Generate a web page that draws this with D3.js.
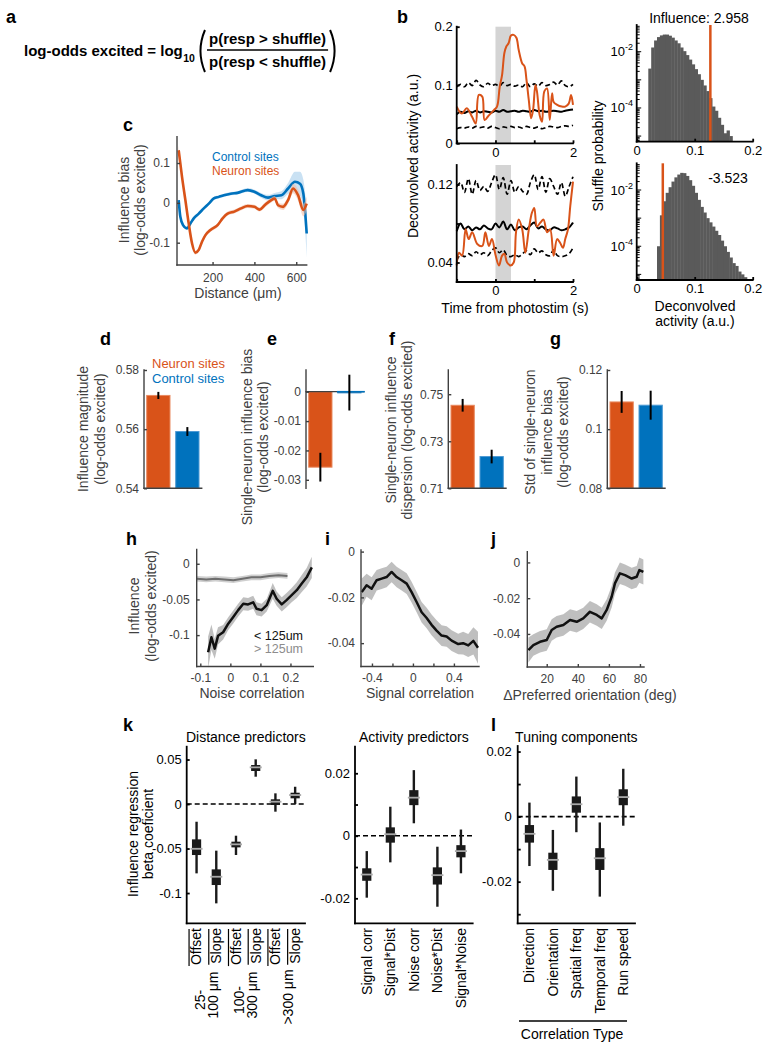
<!DOCTYPE html>
<html><head><meta charset="utf-8">
<script src="https://cdn.jsdelivr.net/npm/d3@7"></script>
<style>body{margin:0;background:#fff}svg{display:block}</style>
</head><body>
<svg id="fig" width="772" height="1050"></svg>
<script>
// ================= DATA =================
// a
const formulaLHS = 'log-odds excited = log';
const formulaBase = '10';
const formulaNum = 'p(resp > shuffle)';
const formulaDen = 'p(resp < shuffle)';
// b: traces
const bGridT = [-1.0,-0.9,-0.8,-0.7,-0.6,-0.5,-0.4,-0.3,-0.2,-0.1,0.0,0.1,0.2,0.3,0.4,0.5,0.6,0.7,0.8,0.9,1.0,1.1,1.2,1.3,1.4,1.5,1.6,1.7,1.8,1.9,2.0];
const bTopUpper = [0.097,0.101,0.097,0.104,0.099,0.108,0.100,0.097,0.103,0.099,0.101,0.098,0.104,0.099,0.101,0.098,0.100,0.097,0.104,0.097,0.102,0.098,0.104,0.099,0.101,0.105,0.100,0.107,0.099,0.097,0.101];
const bTopMean  = [0.050,0.054,0.052,0.055,0.053,0.056,0.053,0.055,0.054,0.053,0.056,0.054,0.057,0.054,0.055,0.056,0.054,0.056,0.055,0.054,0.057,0.055,0.056,0.054,0.055,0.056,0.055,0.054,0.056,0.057,0.058];
const bTopLower = [0.025,0.027,0.026,0.028,0.026,0.029,0.027,0.028,0.026,0.029,0.027,0.025,0.028,0.027,0.029,0.027,0.028,0.026,0.029,0.027,0.026,0.028,0.025,0.027,0.029,0.028,0.027,0.029,0.030,0.029,0.031];
const bTopRedT = [-1.0,-0.87,-0.74,-0.60,-0.51,-0.43,-0.34,-0.28,-0.17,-0.04,0.04,0.11,0.17,0.23,0.28,0.34,0.40,0.47,0.54,0.60,0.69,0.75,0.80,0.86,0.92,0.97,1.03,1.07,1.14,1.20,1.26,1.33,1.40,1.46,1.50,1.59,1.71,1.80,1.89,1.95,2.0];
const bTopRedV = [0.063,0.051,0.060,0.045,0.034,0.083,0.080,0.040,0.048,0.057,0.063,0.097,0.117,0.155,0.166,0.172,0.185,0.186,0.181,0.160,0.137,0.132,0.109,0.074,0.043,0.057,0.100,0.089,0.048,0.037,0.089,0.094,0.040,0.086,0.071,0.066,0.063,0.063,0.068,0.083,0.066];
const bBotUpper = [0.118,0.122,0.112,0.126,0.110,0.124,0.114,0.118,0.113,0.122,0.130,0.115,0.127,0.110,0.124,0.112,0.118,0.113,0.110,0.122,0.130,0.115,0.128,0.112,0.126,0.118,0.110,0.122,0.108,0.118,0.128];
const bBotMean  = [0.072,0.080,0.074,0.077,0.073,0.076,0.074,0.078,0.075,0.074,0.080,0.076,0.082,0.074,0.079,0.073,0.076,0.077,0.074,0.078,0.081,0.075,0.077,0.074,0.073,0.076,0.075,0.073,0.074,0.076,0.081];
const bBotLower = [0.042,0.048,0.046,0.049,0.047,0.051,0.048,0.050,0.047,0.052,0.055,0.050,0.053,0.047,0.046,0.048,0.046,0.049,0.052,0.048,0.054,0.050,0.052,0.048,0.047,0.053,0.047,0.046,0.047,0.049,0.055];
const bBotRedT = [-1.0,-0.94,-0.86,-0.77,-0.69,-0.60,-0.47,-0.34,-0.26,-0.17,-0.09,0,0.09,0.17,0.23,0.30,0.39,0.47,0.53,0.60,0.69,0.77,0.86,0.94,1.00,1.07,1.16,1.24,1.33,1.41,1.50,1.59,1.67,1.74,1.80,1.87,1.93,2.0];
const bBotRedV = [0.037,0.050,0.047,0.074,0.064,0.071,0.059,0.057,0.071,0.057,0.064,0.048,0.037,0.047,0.049,0.040,0.037,0.040,0.071,0.084,0.074,0.050,0.074,0.091,0.096,0.077,0.081,0.084,0.071,0.074,0.047,0.064,0.060,0.055,0.064,0.074,0.098,0.123];
const bStimWindow = [0, 0.4];
// b: shuffle histograms (log10 probability per bin)
const histTopEdges = [0.020,0.025,0.030,0.035,0.040,0.045,0.050,0.055,0.060,0.065,0.070,0.075,0.080,0.085,0.090,0.095,0.100,0.105,0.110,0.115,0.120,0.125,0.130,0.135,0.140,0.145,0.150,0.155,0.160,0.165];
const histTopLog10 = [-2.6,-1.85,-1.6,-1.48,-1.42,-1.39,-1.39,-1.43,-1.5,-1.6,-1.7,-1.85,-1.98,-2.12,-2.28,-2.45,-2.62,-2.8,-3.0,-3.2,-3.4,-3.65,-3.95,-4.1,-4.35,-4.6,-4.9,-4.8,-5.0];
const histTopResp = 0.127;
const histTopLabel = 'Influence: 2.958';
const histBotEdges = [0.035,0.040,0.045,0.050,0.055,0.060,0.065,0.070,0.075,0.080,0.085,0.090,0.095,0.100,0.105,0.110,0.115,0.120,0.125,0.130,0.135,0.140,0.145,0.150,0.155,0.160,0.165,0.170,0.175,0.180,0.185,0.190];
const histBotLog10 = [-4.0,-2.9,-2.4,-2.1,-1.9,-1.7,-1.55,-1.45,-1.39,-1.4,-1.5,-1.65,-1.85,-2.1,-2.35,-2.6,-2.8,-3.0,-3.15,-3.3,-3.45,-3.6,-3.8,-4.0,-4.2,-4.4,-4.6,-4.7,-4.9,-5.0,-5.1];
const histBotResp = 0.045;
const histBotLabel = '-3.523';
// c
const cNeuronDist = [38,54,70,86,102,118,134,150,166,190,224,248,272,304,336,368,400,425,449,481,497,513,537,561,585,609,634,650];
const cNeuronBias = [0.132,0.065,0.007,-0.052,-0.102,-0.125,-0.118,-0.097,-0.081,-0.068,-0.056,-0.039,-0.027,-0.022,-0.014,-0.008,-0.010,-0.017,-0.006,0.007,0.011,-0.006,-0.010,0.007,0.036,0.019,-0.018,-0.002];
const cNeuronErr  = [0.012,0.008,0.006,0.005,0.005,0.005,0.005,0.005,0.005,0.005,0.005,0.005,0.005,0.005,0.005,0.005,0.005,0.005,0.006,0.006,0.006,0.007,0.008,0.009,0.012,0.014,0.016,0.018];
const cControlDist = [38,46,59,78,94,110,134,158,182,206,230,254,287,319,368,400,432,465,497,529,561,594,618,634,650];
const cControlBias = [0.007,-0.035,-0.056,-0.064,-0.052,-0.039,-0.027,-0.014,-0.002,0.011,0.015,0.019,0.023,0.025,0.032,0.028,0.019,0.013,0.017,0.019,0.036,0.053,0.048,0.023,-0.077];
const cControlErr  = [0.006,0.005,0.004,0.004,0.004,0.004,0.004,0.004,0.004,0.004,0.004,0.004,0.004,0.004,0.005,0.005,0.006,0.007,0.008,0.010,0.014,0.025,0.030,0.035,0.060];
// d-g
const groupNames = ['Neuron sites','Control sites'];
const dValues = [0.5714, 0.5592], dErr = [0.0012, 0.0015];
const eValues = [-0.0257, -0.0003], eErr = [0.0049, 0.0061];
const fValues = [0.7453, 0.7235], fErr = [0.0027, 0.0029];
const gValues = [0.1092, 0.1081], gErr = [0.0037, 0.0049];
// h
const hNearX = [-0.074,-0.063,-0.052,-0.041,-0.024,-0.007,0.009,0.026,0.043,0.059,0.076,0.087,0.104,0.121,0.132,0.141,0.154,0.171,0.187,0.204,0.221,0.237,0.254,0.271];
const hNearY = [-0.124,-0.103,-0.119,-0.101,-0.096,-0.084,-0.075,-0.065,-0.056,-0.057,-0.054,-0.063,-0.065,-0.058,-0.047,-0.038,-0.049,-0.057,-0.051,-0.044,-0.037,-0.028,-0.019,-0.005];
const hNearErr = [0.022,0.018,0.014,0.012,0.010,0.009,0.009,0.009,0.009,0.009,0.009,0.009,0.009,0.009,0.010,0.011,0.010,0.010,0.010,0.010,0.011,0.012,0.013,0.015];
const hFarX = [-0.112,-0.08,-0.05,-0.02,0.01,0.04,0.07,0.10,0.13,0.16,0.19];
const hFarY = [-0.021,-0.022,-0.021,-0.022,-0.023,-0.021,-0.019,-0.019,-0.017,-0.016,-0.017];
const hFarErr = [0.004,0.004,0.004,0.004,0.004,0.004,0.004,0.004,0.004,0.004,0.004];
// i
const iX = [-0.50,-0.452,-0.403,-0.354,-0.305,-0.257,-0.208,-0.159,-0.110,-0.061,-0.013,0.036,0.085,0.134,0.182,0.231,0.28,0.329,0.378,0.442,0.49,0.54,0.59,0.635];
const iY = [-0.0177,-0.0147,-0.0162,-0.0125,-0.0118,-0.0111,-0.0089,-0.0111,-0.0125,-0.014,-0.0177,-0.022,-0.0265,-0.029,-0.032,-0.0345,-0.0367,-0.0371,-0.0389,-0.0404,-0.040,-0.041,-0.039,-0.042];
const iErr = [0.006,0.005,0.005,0.0045,0.0045,0.0045,0.0045,0.0045,0.0045,0.0045,0.0045,0.0045,0.0045,0.0045,0.0045,0.0045,0.0045,0.0045,0.0045,0.0045,0.005,0.005,0.006,0.007];
// j
const jX = [8.2,11.4,15.7,20,23.2,26.4,30.7,35,39.3,43.5,47.8,52.2,55.4,58.6,61.8,63.9,67.1,70.4,74.7,77.9,79.6,82.2];
const jY = [-0.049,-0.0462,-0.0444,-0.0434,-0.0378,-0.036,-0.035,-0.0322,-0.0332,-0.0313,-0.0276,-0.0294,-0.0313,-0.0266,-0.0192,-0.0117,-0.0061,-0.0071,-0.009,-0.008,-0.0043,-0.0053];
const jErr = [0.007,0.006,0.006,0.006,0.006,0.006,0.006,0.006,0.006,0.006,0.006,0.006,0.006,0.006,0.006,0.006,0.006,0.006,0.006,0.006,0.007,0.007];
// k (distance predictors)
const kDistLabels = ['Offset','Slope','Offset','Slope','Offset','Slope'];
const kDistGroups = [['25-','100 μm'],['100-','300 μm'],['>300 μm']];
const kDistMed = [-0.0503,-0.0817,-0.0453,0.0412,0.0026,0.0101];
const kDistQ3  = [-0.0397,-0.0734,-0.0423,0.0438,0.0053,0.0127];
const kDistQ1  = [-0.0573,-0.0910,-0.0487,0.0371,-0.0011,0.0064];
const kDistHi  = [-0.0199,-0.0524,-0.0356,0.0502,0.0120,0.0194];
const kDistLo  = [-0.0779,-0.1116,-0.0573,0.0307,-0.0086,0.0000];
// k (activity predictors)
const kActLabels = ['Signal corr','Signal*Dist','Noise corr','Noise*Dist','Signal*Noise'];
const kActMed = [-0.0124,0.0005,0.0122,-0.0126,-0.0049];
const kActQ3  = [-0.0104,0.0027,0.0146,-0.0101,-0.0030];
const kActQ1  = [-0.0144,-0.0022,0.0098,-0.0156,-0.0069];
const kActHi  = [-0.0049,0.0093,0.0210,-0.0035,0.0020];
const kActLo  = [-0.0198,-0.0085,0.0040,-0.0227,-0.0120];
// l
const lLabels = ['Direction','Orientation','Spatial freq','Temporal freq','Run speed'];
const lMed = [-0.0053,-0.0133,0.0038,-0.0128,0.0060];
const lQ3  = [-0.0026,-0.0111,0.0062,-0.0097,0.0084];
const lQ1  = [-0.0080,-0.0164,0.0012,-0.0164,0.0035];
const lHi  = [0.0043,-0.0041,0.0123,-0.0018,0.0147];
const lLo  = [-0.0152,-0.0228,-0.0048,-0.0246,-0.0028];

// ================= DRAWING =================
const FONT = "'Liberation Sans', Arial, Helvetica, sans-serif";
const ORANGE = '#D95319', BLUE = '#0072BD', GREY = '#404040';
const svg = d3.select('#fig').attr('font-family', FONT);
svg.append('rect').attr('width', 772).attr('height', 1050).attr('fill', '#fff');

function txt(g, x, y, s, o = {}) {
  return g.append('text').attr('x', x).attr('y', y)
    .attr('font-size', o.size || 14).attr('fill', o.fill || '#000')
    .attr('font-weight', o.weight || 'normal')
    .attr('text-anchor', o.anchor || 'start').text(s);
}
function rtxt(g, x, y, s, o = {}) {
  return g.append('text').attr('transform', `translate(${x},${y}) rotate(-90)`)
    .attr('dy', '0.35em').attr('font-size', o.size || 14).attr('fill', o.fill || '#000')
    .attr('text-anchor', o.anchor || 'middle').text(s);
}
function seg(g, x1, y1, x2, y2, color, w, dash) {
  const l = g.append('line').attr('x1', x1).attr('y1', y1).attr('x2', x2).attr('y2', y2)
    .attr('stroke', color).attr('stroke-width', w).attr('stroke-linecap', 'square');
  if (dash) l.attr('stroke-dasharray', dash).attr('stroke-linecap', 'butt');
  return l;
}
function yAxis(g, scale, x, vals, labels, o = {}) {
  const lab = new Map(vals.map((v, i) => [v, labels[i]]));
  const a = d3.axisLeft(scale).tickValues(vals).tickFormat(v => lab.get(v) ?? '')
    .tickSizeInner(-(o.tick ?? 4)).tickSizeOuter(0).tickPadding(o.pad ?? 5);
  const ax = g.append('g').attr('transform', `translate(${x},0)`).call(a)
    .attr('font-family', FONT).attr('font-size', o.size || 12).attr('color', o.color || '#000');
  ax.select('.domain').remove();
  ax.selectAll('.tick line').attr('stroke-width', o.sw || 1.5);
  const r = scale.range();
  seg(g, x, Math.min(...r), x, Math.max(...r), o.color || '#000', o.sw || 1.5);
  return ax;
}
function xAxis(g, scale, y, vals, labels, o = {}) {
  const lab = new Map(vals.map((v, i) => [v, labels[i]]));
  const a = d3.axisBottom(scale).tickValues(vals).tickFormat(v => lab.get(v) ?? '')
    .tickSizeInner(-(o.tick ?? 4)).tickSizeOuter(0).tickPadding(o.pad ?? 5);
  const ax = g.append('g').attr('transform', `translate(0,${y})`).call(a)
    .attr('font-family', FONT).attr('font-size', o.size || 12).attr('color', o.color || '#000');
  ax.select('.domain').remove();
  ax.selectAll('.tick line').attr('stroke-width', o.sw || 1.5);
  const r = scale.range();
  seg(g, Math.min(...r), y, Math.max(...r), y, o.color || '#000', o.sw || 1.5);
  return ax;
}
function panelLabel(x, y, s) { txt(svg, x, y, s, {size: 18, weight: 'bold'}); }

// ---------- a ----------
(function () {
  const g = svg.append('g');
  panelLabel(6, 23, 'a');
  const f1 = txt(g, 24, 56, formulaLHS, {size: 15, weight: 'bold'});
  let xx = 24 + f1.node().getComputedTextLength() + 0.5;
  const f2 = txt(g, xx, 62, formulaBase, {size: 10.5, weight: 'bold'});
  xx += f2.node().getComputedTextLength() + 3;
  const n = txt(g, 0, 44, formulaNum, {size: 15, weight: 'bold', anchor: 'middle'});
  const d = txt(g, 0, 67, formulaDen, {size: 15, weight: 'bold', anchor: 'middle'});
  const fw = Math.max(n.node().getComputedTextLength(), d.node().getComputedTextLength()) + 4;
  const fx0 = xx + 9, cxm = fx0 + fw / 2;
  n.attr('x', cxm); d.attr('x', cxm);
  seg(g, fx0, 50, fx0 + fw, 50, '#000', 1.6).attr('stroke-linecap', 'butt');
  g.append('path').attr('d', `M${xx + 7},30 Q${xx - 2},51 ${xx + 7},72`).attr('fill', 'none').attr('stroke', '#000').attr('stroke-width', 2);
  const rp = fx0 + fw + 2;
  g.append('path').attr('d', `M${rp},30 Q${rp + 9},51 ${rp},72`).attr('fill', 'none').attr('stroke', '#000').attr('stroke-width', 2);
})();

// ---------- b ----------
(function () {
  const g = svg.append('g');
  panelLabel(397, 23, 'b');
  const bx = d3.scaleLinear().domain([-1, 2]).range([456.7, 573]);
  const curve = d3.curveCatmullRom.alpha(0.5);
  function trace(yS, upper, mean, lower, redT, redV, yt, ytl) {
    const [yb, ytop] = yS.range();
    g.append('rect').attr('x', bx(bStimWindow[0])).attr('width', bx(bStimWindow[1]) - bx(bStimWindow[0]))
      .attr('y', ytop).attr('height', yb - ytop).attr('fill', '#d4d4d4');
    const ln = d3.line().x((d, i) => bx(bGridT[i])).y(d => yS(d)).curve(curve);
    g.append('path').attr('d', ln(upper)).attr('fill', 'none').attr('stroke', '#000').attr('stroke-width', 1.7).attr('stroke-dasharray', '5,3');
    g.append('path').attr('d', ln(lower)).attr('fill', 'none').attr('stroke', '#000').attr('stroke-width', 1.7).attr('stroke-dasharray', '5,3');
    g.append('path').attr('d', ln(mean)).attr('fill', 'none').attr('stroke', '#000').attr('stroke-width', 2);
    const lr = d3.line().x((d, i) => bx(redT[i])).y(d => yS(d)).curve(curve);
    g.append('path').attr('d', lr(redV)).attr('fill', 'none').attr('stroke', ORANGE).attr('stroke-width', 2);
    yAxis(g, yS, 456.7, yt, ytl, {size: 13, pad: 4, sw: 1.8, tick: 3});
    xAxis(g, bx, yb, [-1, 0, 1, 2], ['', '0', '', '2'], {size: 13, pad: 4, sw: 1.8, tick: 3});
  }
  const byT = d3.scaleLinear().domain([0, 0.2]).range([143.3, 26.7]);
  const byB = d3.scaleLinear().domain([0.02, 0.14]).range([282, 165]);
  trace(byT, bTopUpper, bTopMean, bTopLower, bTopRedT, bTopRedV, [0, 0.1, 0.2], ['0', '0.1', '0.2']);
  trace(byB, bBotUpper, bBotMean, bBotLower, bBotRedT, bBotRedV, [0.04, 0.08, 0.12], ['0.04', '', '0.12']);
  rtxt(g, 413, 156, 'Deconvolved activity (a.u.)', {size: 14});
  txt(g, 515, 313, 'Time from photostim (s)', {size: 14, anchor: 'middle'});

  const hx = d3.scaleLinear().domain([0, 0.2]).range([636.7, 752.7]);
  function hist(yS, edges, logs, resp) {
    const [yb, ytop] = yS.range();
    g.selectAll(null).data(logs).enter().append('rect')
      .attr('x', (d, i) => hx(edges[i]))
      .attr('width', (d, i) => hx(edges[i + 1]) - hx(edges[i]) + 0.4)
      .attr('y', d => yS(Math.pow(10, d)))
      .attr('height', d => yb - yS(Math.pow(10, d)))
      .attr('fill', '#5a5a5a');
    seg(g, hx(resp), yb, hx(resp), ytop, ORANGE, 2.5).attr('stroke-linecap', 'butt');
    const [lo, hi] = yS.domain();
    for (let e = -6; e <= -1; e++) {
      for (let k = 1; k <= 9; k++) {
        const v = k * Math.pow(10, e);
        if (v < lo || v > hi) continue;
        const yy = yS(v);
        seg(g, 636.7, yy, 636.7 + (k === 1 ? 4 : 2.5), yy, '#000', 1);
      }
    }
    [-2, -4].forEach(e => {
      const t = g.append('text').attr('x', 633).attr('y', yS(Math.pow(10, e)) + 4.5)
        .attr('text-anchor', 'end').attr('font-size', 13);
      t.append('tspan').text('10');
      t.append('tspan').attr('font-size', 9).attr('dy', -6).text(String(e));
    });
    seg(g, 636.7, ytop, 636.7, yb, '#000', 1.8);
    xAxis(g, hx, yb, [0, 0.1, 0.2], ['0', '0.1', '0.2'], {size: 13, pad: 4, sw: 1.8, tick: 3});
  }
  const hyT = d3.scaleLog().domain([Math.pow(10, -5.2), Math.pow(10, -1.05)]).range([141.7, 25]);
  const hyB = d3.scaleLog().domain([Math.pow(10, -5.2), Math.pow(10, -1.05)]).range([280, 163.3]);
  hist(hyT, histTopEdges, histTopLog10, histTopResp);
  hist(hyB, histBotEdges, histBotLog10, histBotResp);
  txt(g, 699, 23, histTopLabel, {size: 14, anchor: 'middle'});
  txt(g, 728, 183, histBotLabel, {size: 14, anchor: 'middle'});
  rtxt(g, 598, 156, 'Shuffle probability', {size: 14});
  txt(g, 695, 311, 'Deconvolved', {size: 14, anchor: 'middle'});
  txt(g, 695, 326, 'activity (a.u.)', {size: 14, anchor: 'middle'});
})();

// ---------- c ----------
(function () {
  const g = svg.append('g');
  panelLabel(123, 131, 'c');
  const x = d3.scaleLinear().domain([30, 650]).range([177, 306.7]);
  const y = d3.scaleLinear().domain([-0.156, 0.166]).range([265, 136.7]);
  function series(dist, bias, err, col, band) {
    const ar = d3.area().x((d, i) => x(dist[i])).y0((d, i) => y(bias[i] - err[i])).y1((d, i) => y(bias[i] + err[i])).curve(d3.curveMonotoneX);
    g.append('path').attr('d', ar(bias)).attr('fill', band).attr('opacity', 0.55);
    const ln = d3.line().x((d, i) => x(dist[i])).y(d => y(d)).curve(d3.curveMonotoneX);
    g.append('path').attr('d', ln(bias)).attr('fill', 'none').attr('stroke', col).attr('stroke-width', 2.6);
  }
  series(cControlDist, cControlBias, cControlErr, BLUE, '#9cc8ea');
  series(cNeuronDist, cNeuronBias, cNeuronErr, ORANGE, '#f0b9a0');
  yAxis(g, y, 177, [-0.1, 0, 0.1], ['-0.1', '0', '0.1'], {color: GREY, pad: 7, tick: 3, sw: 1.4, size: 12});
  xAxis(g, x, 265, [200, 400, 600], ['200', '400', '600'], {color: GREY, pad: 8, tick: 3, sw: 1.4, size: 12});
  txt(g, 212, 161, 'Control sites', {size: 12, fill: BLUE});
  txt(g, 212, 175, 'Neuron sites', {size: 12, fill: ORANGE});
  rtxt(g, 124, 200, 'Influence bias', {size: 14, fill: GREY});
  rtxt(g, 140, 200, '(log-odds excited)', {size: 14, fill: GREY});
  txt(g, 238, 298, 'Distance (μm)', {size: 14, anchor: 'middle', fill: GREY});
})();

// ---------- d-g ----------
function barPanel(o) {
  const g = svg.append('g');
  panelLabel(o.labelX, 345, o.letter);
  const x = d3.scaleBand().domain([0, 1]).range([o.x0, o.x0 + 57.7]).paddingInner(0.197).paddingOuter(0.093);
  const y = d3.scaleLinear().domain(o.domain).range([488.3, 370]);
  const base = o.base;
  const cols = [ORANGE, BLUE], edge = ['#e98a60', '#4d9ad4'];
  o.values.forEach((v, i) => {
    const y0 = y(base), y1 = y(v);
    g.append('rect').attr('x', x(i)).attr('width', x.bandwidth())
      .attr('y', Math.min(y0, y1)).attr('height', Math.max(Math.abs(y0 - y1), 1.2))
      .attr('fill', cols[i]).attr('stroke', edge[i]).attr('stroke-width', 1);
  });
  if (o.zeroLine) seg(g, o.x0, y(0), o.x0 + 57.7, y(0), GREY, 1.3);
  if (o.zeroLine) seg(g, x(1), y(0), x(1) + x.bandwidth() + 3, y(0), BLUE, 1.6);
  o.values.forEach((v, i) => {
    const cx = x(i) + x.bandwidth() / 2;
    seg(g, cx, y(v - o.err[i]), cx, y(v + o.err[i]), '#000', 2).attr('stroke-linecap', 'butt');
  });
  yAxis(g, y, o.x0, o.ticks, o.tickLabels, {color: GREY, pad: 5, tick: 3, sw: 1.4, size: 12});
  if (o.bottomAxis) seg(g, o.x0, 488.3, o.x0 + 57.7, 488.3, GREY, 1.4);
  o.ylabel.forEach((s, i) => rtxt(g, o.ylabX[i], o.ylabY, s, {size: 14, fill: GREY}));
  return g;
}
barPanel({letter: 'd', labelX: 100, x0: 144, domain: [0.54, 0.58], base: 0.54, values: dValues, err: dErr,
  ticks: [0.54, 0.56, 0.58], tickLabels: ['0.54', '0.56', '0.58'], bottomAxis: true,
  ylabel: ['Influence magnitude', '(log-odds excited)'], ylabX: [83, 100], ylabY: 429});
txt(svg, 152, 368, groupNames[0], {size: 13, fill: ORANGE});
txt(svg, 152, 383, groupNames[1], {size: 13, fill: BLUE});
barPanel({letter: 'e', labelX: 267, x0: 306, domain: [-0.0329, 0.0074], base: 0, values: eValues, err: eErr,
  ticks: [-0.03, -0.02, -0.01, 0], tickLabels: ['-0.03', '-0.02', '-0.01', '0'], bottomAxis: false, zeroLine: true,
  ylabel: ['Single-neuron influence bias', '(log-odds excited)'], ylabX: [247, 263], ylabY: 437});
barPanel({letter: 'f', labelX: 389, x0: 448.3, domain: [0.71, 0.7603], base: 0.71, values: fValues, err: fErr,
  ticks: [0.71, 0.73, 0.75], tickLabels: ['0.71', '0.73', '0.75'], bottomAxis: true,
  ylabel: ['Single-neuron influence', 'dispersion (log-odds excited)'], ylabX: [391, 407], ylabY: 430});
barPanel({letter: 'g', labelX: 550, x0: 607.3, domain: [0.08, 0.12], base: 0.08, values: gValues, err: gErr,
  ticks: [0.08, 0.1, 0.12], tickLabels: ['0.08', '0.1', '0.12'], bottomAxis: true,
  ylabel: ['Std of single-neuron', 'influence bias', '(log-odds excited)'], ylabX: [530, 547, 563], ylabY: 432});

// ---------- h, i, j ----------
function bandLine(g, x, y, xs, ys, es, lineCol, bandCol, w) {
  const ar = d3.area().x((d, i) => x(xs[i])).y0((d, i) => y(ys[i] - es[i])).y1((d, i) => y(ys[i] + es[i])).curve(d3.curveLinear);
  g.append('path').attr('d', ar(ys)).attr('fill', bandCol);
  const ln = d3.line().x((d, i) => x(xs[i])).y(d => y(d)).curve(d3.curveLinear);
  g.append('path').attr('d', ln(ys)).attr('fill', 'none').attr('stroke', lineCol).attr('stroke-width', w).attr('stroke-linejoin', 'round');
}
(function () {
  const g = svg.append('g');
  panelLabel(126, 545, 'h');
  const x = d3.scaleLinear().domain([-0.112, 0.276]).range([196.7, 313.3]);
  const y = d3.scaleLinear().domain([-0.144, 0.02]).range([666.5, 549.5]);
  bandLine(g, x, y, hFarX, hFarY, hFarErr, '#6e6e6e', '#cfcfcf', 2);
  bandLine(g, x, y, hNearX, hNearY, hNearErr, '#111', 'rgba(170,170,170,0.75)', 2.5);
  yAxis(g, y, 196.7, [-0.1, -0.05, 0], ['-0.1', '-0.05', '0'], {color: GREY, pad: 7, tick: 3, sw: 1.4, size: 12});
  xAxis(g, x, 666.5, [-0.1, 0, 0.1, 0.2], ['-0.1', '0', '0.1', '0.2'], {color: GREY, pad: 7, tick: 3, sw: 1.4, size: 12});
  txt(g, 303, 640, '< 125um', {size: 12.5, anchor: 'end', fill: '#111'});
  txt(g, 303, 653, '> 125um', {size: 12.5, anchor: 'end', fill: '#8c8c8c'});
  rtxt(g, 134, 606, 'Influence', {size: 14, fill: GREY});
  rtxt(g, 151, 606, '(log-odds excited)', {size: 14, fill: GREY});
  txt(g, 252, 698, 'Noise correlation', {size: 14, anchor: 'middle', fill: GREY});
})();
(function () {
  const g = svg.append('g');
  panelLabel(325, 545, 'i');
  const x = d3.scaleLinear().domain([-0.507, 0.645]).range([361, 479]);
  const y = d3.scaleLinear().domain([-0.0502, 0.0007]).range([666.5, 550]);
  bandLine(g, x, y, iX, iY, iErr, '#111', 'rgba(170,170,170,0.75)', 2.5);
  yAxis(g, y, 361, [-0.04, -0.02, 0], ['-0.04', '-0.02', '0'], {color: GREY, pad: 6, tick: 3, sw: 1.4, size: 12});
  xAxis(g, x, 666.5, [-0.4, -0.2, 0, 0.2, 0.4], ['-0.4', '', '0', '', '0.4'], {color: GREY, pad: 7, tick: 3, sw: 1.4, size: 12});
  txt(g, 420, 698, 'Signal correlation', {size: 14, anchor: 'middle', fill: GREY});
})();
(function () {
  const g = svg.append('g');
  panelLabel(491, 545, 'j');
  const x = d3.scaleLinear().domain([7.5, 82.6]).range([527.3, 644]);
  const y = d3.scaleLinear().domain([-0.0585, 0.006]).range([667, 551.7]);
  bandLine(g, x, y, jX, jY, jErr, '#111', 'rgba(170,170,170,0.75)', 2.5);
  yAxis(g, y, 527.3, [-0.04, -0.02, 0], ['-0.04', '-0.02', '0'], {color: GREY, pad: 7, tick: 3, sw: 1.4, size: 12});
  xAxis(g, x, 667, [20, 40, 60, 80], ['20', '40', '60', '80'], {color: GREY, pad: 7, tick: 3, sw: 1.4, size: 12});
  txt(g, 590, 700, 'ΔPreferred orientation (deg)', {size: 14, anchor: 'middle', fill: GREY});
})();

// ---------- k, l ----------
function boxPanel(o) {
  const g = svg.append('g');
  const x = d3.scalePoint().domain(d3.range(o.med.length)).range(o.xr).padding(0.5);
  const y = d3.scaleLinear().domain(o.dom).range([923.3, o.top]);
  seg(g, o.xr[0], y(0), o.xr[1], y(0), '#000', 1.6, '5,3');
  o.med.forEach((m, i) => {
    const cx = x(i);
    seg(g, cx, y(o.lo[i]), cx, y(o.hi[i]), '#1a1a1a', 2.4).attr('stroke-linecap', 'butt');
    g.append('rect').attr('x', cx - 4.6).attr('width', 9.2).attr('y', y(o.q3[i])).attr('height', y(o.q1[i]) - y(o.q3[i])).attr('fill', '#1a1a1a');
    seg(g, cx - 6, y(m), cx + 6, y(m), '#a8a8a8', 1.8).attr('stroke-linecap', 'butt');
  });
  yAxis(g, y, o.xr[0], o.ticks, o.tickLabels, {color: '#000', pad: o.pad || 5, tick: 3, sw: 1.8, size: 13});
  seg(g, o.xr[0], 923.3, o.xr[1], 923.3, '#000', 1.8);
  o.labels.forEach((s, i) => {
    const t = rtxt(g, x(i), 928, s, {size: 14, anchor: 'end'});
    if (o.bars) {
      const L = t.node().getComputedTextLength();
      seg(g, x(i) - 7.5, 929, x(i) - 7.5, 929 + L, '#000', 1.2).attr('stroke-linecap', 'butt');
    }
  });
  txt(g, (o.xr[0] + o.xr[1]) / 2, 742, o.title, {size: 14, anchor: 'middle'});
  return {g, x};
}
panelLabel(123, 731, 'k');
const kd = boxPanel({xr: [186.7, 305], top: 746.7, dom: [-0.134, 0.0644], med: kDistMed, q1: kDistQ1, q3: kDistQ3, lo: kDistLo, hi: kDistHi,
  ticks: [-0.1, -0.05, 0, 0.05], tickLabels: ['-0.1', '-0.05', '0', '0.05'], labels: kDistLabels, bars: true, title: 'Distance predictors'});
[[0, 1], [2, 3], [4, 5]].forEach((pair, gi) => {
  const cx = (kd.x(pair[0]) + kd.x(pair[1])) / 2;
  const lines = kDistGroups[gi];
  if (lines.length === 2) {
    rtxt(svg, cx - 6.5, 1000, lines[0], {size: 14});
    rtxt(svg, cx + 6.5, 995, lines[1], {size: 14});
  } else {
    rtxt(svg, cx + 3, 997, lines[0], {size: 14});
  }
});
rtxt(svg, 133.5, 834, 'Influence regression', {size: 14});
rtxt(svg, 148.5, 834, 'beta coeficient', {size: 14});
boxPanel({xr: [355, 472.7], top: 746.7, dom: [-0.028, 0.0285], med: kActMed, q1: kActQ1, q3: kActQ3, lo: kActLo, hi: kActHi,
  ticks: [-0.02, -0.01, 0, 0.01, 0.02], tickLabels: ['-0.02', '', '0', '', '0.02'], labels: kActLabels, title: 'Activity predictors'});
panelLabel(491, 731, 'l');
boxPanel({xr: [517.7, 635], top: 746, dom: [-0.0328, 0.0217], med: lMed, q1: lQ1, q3: lQ3, lo: lLo, hi: lHi, pad: 6,
  ticks: [-0.03, -0.02, -0.01, 0, 0.01, 0.02], tickLabels: ['', '-0.02', '', '0', '', '0.02'], labels: lLabels, title: 'Tuning components'});
seg(svg, 519, 1021, 627, 1021, '#000', 1.5).attr('stroke-linecap', 'butt');
txt(svg, 572, 1039, 'Correlation Type', {size: 14, anchor: 'middle'});
</script>
</body></html>
